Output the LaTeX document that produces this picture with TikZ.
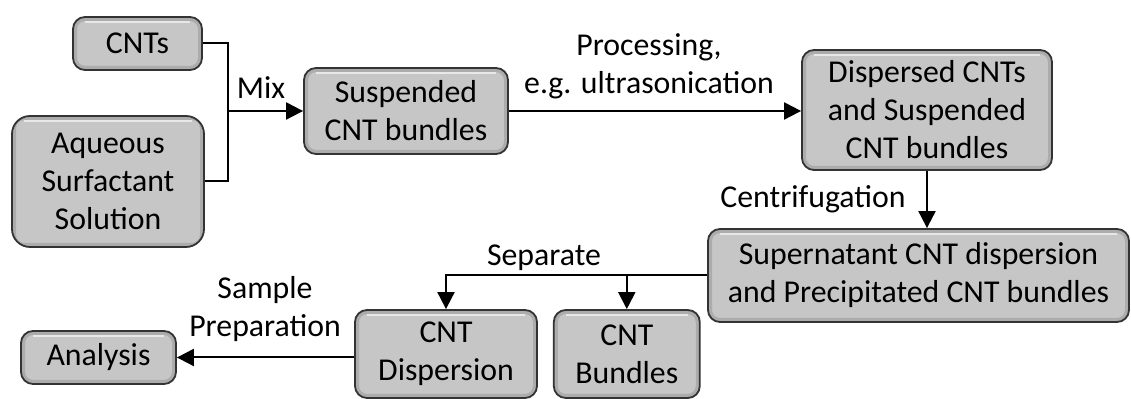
\documentclass[tikz,border=0pt]{standalone}
\usepackage{fontspec}
\setmainfont{Carlito}
\usepackage{tikz}
\usetikzlibrary{arrows.meta,positioning}
\tikzstyle{block} = [rectangle, draw=black!80, line width=0.9pt, fill=gray!45,
    rounded corners=6pt, align=center, inner sep=0pt,
    font=\fontsize{15.9}{19}\selectfont,
    path picture={
      \draw[gray!65, line width=4pt, rounded corners=6pt]
        (path picture bounding box.south west) rectangle (path picture bounding box.north east);
      \draw[white, opacity=0.6, line width=1pt]
        ([xshift=6pt,yshift=-2.6pt]path picture bounding box.north west) --
        ([xshift=-6pt,yshift=-2.6pt]path picture bounding box.north east);
    }]
\tikzstyle{line} = [draw, line width=1pt, -{Triangle[length=8.5pt,width=8.5pt]}]
\tikzstyle{lbl} = [align=center, inner sep=0pt, font=\fontsize{15.9}{19}\selectfont]

\begin{document}
\begin{tikzpicture}[x=0.5pt, y=-0.5pt]
    \useasboundingbox (0,0) rectangle (1131,399);
    % Place nodes
    \node [block, minimum width=64.5pt, minimum height=26.5pt] (cnts) at (137.5,43.5) {CNTs};
    \node [block, minimum width=96pt, minimum height=65.5pt, rounded corners=9pt] (aqu) at (108,181.5) {Aqueous\\Surfactant\\Solution};
    \node [block, minimum width=102pt, minimum height=43pt] (susp) at (406,111) {Suspended\\CNT bundles};
    \node [block, minimum width=125pt, minimum height=60pt] (disp) at (927,110) {Dispersed CNTs\\and Suspended\\CNT bundles};
    \node [block, minimum width=210.5pt, minimum height=46.5pt] (sup) at (918.5,275.5) {Supernatant CNT dispersion\\and Precipitated CNT bundles};
    \node [block, minimum width=91pt, minimum height=44pt] (cntd) at (446,354) {CNT\\Dispersion};
    \node [block, minimum width=73pt, minimum height=44pt, right=7.5pt of cntd] (cntb) {CNT\\Bundles};
    \node [block, minimum width=77.5pt, minimum height=26.5pt] (ana) at (98.5,357.5) {Analysis};
    \coordinate (mix) at (228,111);
    \draw [line width=1pt] (cnts.east) -| (mix) |- (aqu.east);
    \draw [line] (mix) -- (susp.west);
    \draw [line] (susp.east) -- (susp.east -| disp.west);
    \draw [line] (disp.south) -- (disp.south |- sup.north);
    \draw [line] (sup.west) -| (cntd.north);
    \draw [line] (cntb.north |- sup.west) -- (cntb.north);
    \draw [line] (cntd.west |- ana.east) -- (ana.east);

    % labels
    \node[lbl] at (261,88) {Mix};
    \node[lbl] at (649,66) {Processing,\\e.g. ultrasonication};
    \node[lbl] at (813,199) {Centrifugation};
    \node[lbl] at (544,258) {Separate};
    \node[lbl] at (265,309) {Sample\\Preparation};
\end{tikzpicture}
\end{document}
